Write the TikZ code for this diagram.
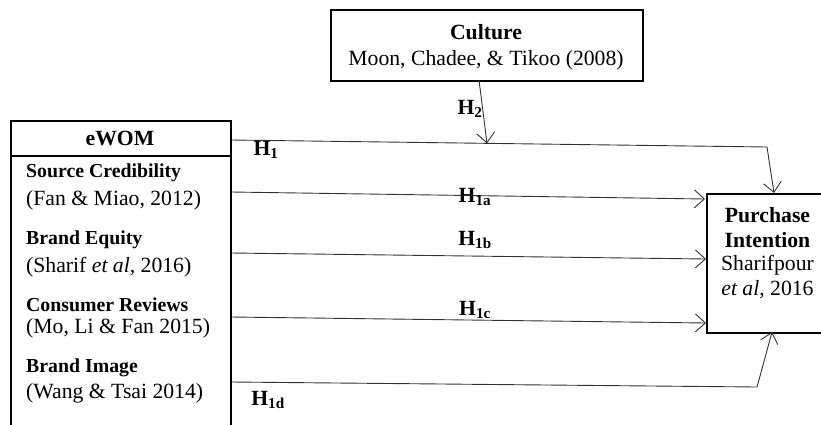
\documentclass[tikz,border=0pt]{standalone}
\usepackage{fontspec}
\setmainfont{Liberation Serif}
\usetikzlibrary{arrows.meta}
\begin{document}
\begin{tikzpicture}[x=1pt,y=-1pt,
  box/.style={draw, line width=1.6pt, inner sep=0pt},
  txt/.style={inner sep=0pt, font=\fontsize{21.7}{27}\selectfont},
  lbl/.style={inner sep=0pt, font=\fontsize{21.7}{27}\selectfont\bfseries},
  item/.style={inner sep=0pt, anchor=west, font=\fontsize{19.8}{24}\selectfont\bfseries},
  conn/.style={line width=0.9pt, draw=black!80, -{Straight Barb[length=10pt,width=18pt,line width=0.9pt]}}
]
\clip (0,0) rectangle (821,424);
\fill[white] (0,0) rectangle (821,424);
% boxes
\node[box, minimum width=220pt, minimum height=320pt, anchor=north west] (ewom) at (10,120) {};
\node[box, minimum width=312pt, minimum height=71pt, anchor=north west] (culture) at (330,9) {};
\node[box, minimum width=140pt, minimum height=139pt, anchor=north west] (pi) at (706,193) {};
\draw[line width=1.6pt] (ewom.west|-0,156) -- (ewom.east|-0,156);
% texts
\node[lbl] (tewom) at (120,138) {eWOM};
\node[item] (t1) at (26,173) {Source Credibility};
\node[txt, anchor=west] (t2) at (26,200) {(Fan \& Miao, 2012)};
\node[item] (t3) at (26,240) {Brand Equity};
\node[txt, anchor=west] (t4) at (26,267) {(Sharif \textit{et al,} 2016)};
\node[item] (t5) at (26,305) {Consumer Reviews};
\node[txt, anchor=west] (t6) at (26,328) {(Mo, Li \& Fan 2015)};
\node[item] (t7) at (26,368) {Brand Image};
\node[txt, anchor=west] (t8) at (26,393) {(Wang \& Tsai 2014)};
\node[lbl] (tc1) at (486,32) {Culture};
\node[txt] (tc2) at (486,60) {Moon, Chadee, \& Tikoo (2008)};
\node[lbl] (tp1) at (767.5,215) {Purchase};
\node[lbl] (tp2) at (767.5,240) {Intention};
\node[txt] (tp3) at (767.5,265) {Sharifpour};
\node[txt] (tp4) at (767.5,290) {\textit{et al}, 2016};
% connector points
\coordinate (s1) at (ewom.east|-0,140);
\coordinate (b1) at (767,147);
\coordinate (e1) at (774,193);
\coordinate (s2) at (479,80);
\coordinate (e2) at (487,143.4);
\coordinate (sa) at (ewom.east|-0,192);
\coordinate (ea) at (705,199);
\coordinate (sb) at (ewom.east|-0,253);
\coordinate (eb) at (pi.west|-0,259);
\coordinate (sc) at (ewom.east|-0,317);
\coordinate (ec) at (pi.west|-0,323);
\coordinate (sd) at (ewom.east|-0,382);
\coordinate (bd) at (757,387);
\coordinate (ed) at (772,332);
% connectors
\draw[conn] (s1) -- (b1) -- (e1);
\draw[conn] (s2) -- (e2);
\draw[conn] (sa) -- (ea);
\draw[conn] (sb) -- (eb);
\draw[conn] (sc) -- (ec);
\draw[conn] (sd) -- (bd) -- (ed);
% labels
\node[lbl] (l1) at (266,150) {H\textsubscript{1}};
\node[lbl] (l2) at (470,109) {H\textsubscript{2}};
\node[lbl] (la) at (475,197) {H\textsubscript{1a}};
\node[lbl] (lb) at (475,240) {H\textsubscript{1b}};
\node[lbl] (lc) at (475,310) {H\textsubscript{1c}};
\node[lbl] (ld) at (268,400) {H\textsubscript{1d}};
\end{tikzpicture}
\end{document}
